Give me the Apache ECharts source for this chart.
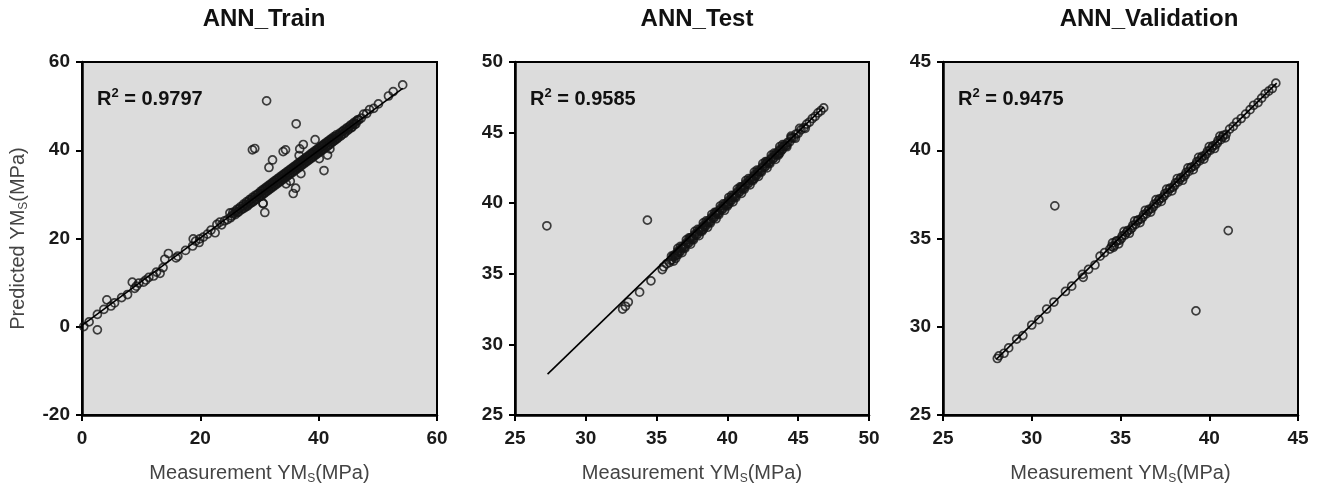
<!DOCTYPE html>
<html>
<head>
<meta charset="utf-8">
<script src="https://cdn.jsdelivr.net/npm/echarts@6/dist/echarts.min.js"></script>
<style>html,body{margin:0;padding:0;background:#fff}#c{width:1322px;height:490px}</style>
</head>
<body>
<div id="c"></div>
<script>
// ---------- data ----------
const panelTitles = ['ANN_Train', 'ANN_Test', 'ANN_Validation'];
const r2Values = ['0.9797', '0.9585', '0.9475'];

const trainXTicks = [0, 60, 20];      // min, max, interval
const trainYTicks = [-20, 60, 20];
const testTicks = [25, 50, 5];
const validTicks = [25, 45, 5];

// regression lines [x, y] end points
const trainFit = [[0, 0.3], [54.2, 54.0]];
const testFit = [[27.3, 27.9], [46.8, 46.8]];
const validFit = [[28.0, 28.15], [43.8, 43.8]];

// ANN_Train: [measured, predicted]
const trainPoints = [
  [0.3,0.05],[1.2,1.1],[2.6,-0.7],[2.6,2.8],[3.7,3.95],[4.2,6.1],[4.9,4.7],[5.5,5.4],[6.7,6.6],[7.7,7.3],
  [8.5,10.1],[8.9,8.7],[9.2,9.2],[9.6,9.9],[10.4,10.1],[10.8,10.6],[11.3,11.2],[12.1,11.5],[12.6,12.4],[13.2,12.1],
  [13.7,13.4],[14.0,15.3],[14.6,16.6],[15.9,15.6],[16.2,16.0],[17.5,17.3],[18.7,18.3],[18.8,19.9],[19.2,19.4],[19.8,19.1],
  [19.9,19.9],[20.5,20.3],[21.2,21.0],[21.8,21.9],[22.5,21.3],[22.8,23.2],[23.3,23.7],[23.6,23.1],[24.1,24.0],[24.6,24.3],
  [25.0,25.8],[25.3,25.1],[25.7,25.6],[26.0,26.2],[26.3,25.9],[26.6,26.8],[26.9,26.5],[27.2,27.4],[27.4,26.9],[27.7,27.8],
  [27.9,27.3],[28.2,28.4],[28.4,27.9],[28.7,28.9],[28.9,28.3],[29.2,29.4],[29.4,28.8],[29.6,29.9],[29.9,29.4],[30.1,30.3],
  [30.3,29.6],[30.5,30.8],[30.7,30.1],[30.9,31.2],[31.1,30.5],[31.3,31.6],[31.5,30.9],[31.7,32.0],[31.9,31.3],[32.1,32.4],
  [32.3,31.7],[32.5,32.8],[32.7,32.1],[32.9,33.2],[33.1,32.5],[33.3,33.6],[33.5,32.9],[33.7,34.0],[33.9,33.3],[34.1,34.4],
  [34.3,33.7],[34.5,34.8],[34.7,34.1],[34.9,35.2],[35.1,34.5],[35.3,35.6],[35.5,34.9],[35.7,36.0],[35.9,35.3],[36.1,36.4],
  [36.3,35.7],[36.5,36.8],[36.7,36.1],[36.9,37.2],[37.1,36.5],[37.3,37.6],[37.5,36.9],[37.7,38.0],[37.9,37.3],[38.1,38.4],
  [38.3,37.7],[38.5,38.8],[38.7,38.1],[38.9,39.2],[39.1,38.5],[39.3,39.6],[39.5,38.9],[39.7,40.0],[39.9,39.3],[40.1,40.4],
  [40.3,39.7],[40.5,40.8],[40.7,40.1],[40.9,41.2],[41.1,40.5],[41.3,41.6],[41.5,40.9],[41.7,42.0],[41.9,41.3],[42.1,42.4],
  [42.3,41.8],[42.5,42.7],[42.7,42.2],[42.9,43.1],[43.1,42.6],[43.4,43.5],[43.7,43.2],[44.0,44.2],[44.3,43.8],[44.6,44.8],
  [44.9,44.5],[45.2,45.4],[45.5,45.1],[45.8,46.0],[46.1,45.8],[46.4,46.6],[46.8,46.9],[47.2,47.3],[47.6,48.2],[48.1,48.3],
  [48.6,49.2],[49.3,49.5],[50.1,50.5],[51.8,52.3],[52.6,53.3],[54.2,54.8],
  [25.1,24.7],[25.5,25.9],[25.9,25.4],[26.2,26.6],[26.5,26.1],[26.8,27.2],[27.1,26.7],[27.3,27.8],[27.6,27.2],[27.8,28.3],
  [28.1,27.6],[28.3,28.8],[28.6,28.1],[28.8,29.3],[29.1,28.6],[29.3,29.8],[29.5,29.1],[29.8,30.2],[30.0,29.5],[30.2,30.7],
  [30.4,30.0],[30.6,31.1],[30.8,30.3],[31.0,31.5],[31.2,30.8],[31.4,31.9],[31.6,31.2],[31.8,32.3],[32.0,31.6],[32.2,32.7],
  [32.4,32.0],[32.6,33.1],[32.8,32.4],[33.0,33.5],[33.2,32.8],[33.4,33.9],[33.6,33.2],[33.8,34.3],[34.0,33.6],[34.2,34.7],
  [34.4,34.0],[34.6,35.1],[34.8,34.4],[35.0,35.5],[35.2,34.8],[35.4,35.9],[35.6,35.2],[35.8,36.3],[36.0,35.6],[36.2,36.7],
  [36.4,36.0],[36.6,37.1],[36.8,36.4],[37.0,37.5],[37.2,36.8],[37.4,37.9],[37.6,37.2],[37.8,38.3],[38.0,37.6],[38.2,38.7],
  [38.4,38.0],[38.6,39.1],[38.8,38.4],[39.0,39.5],[39.2,38.8],[39.4,39.9],[39.6,39.2],[39.8,40.3],[40.0,39.6],[40.2,40.7],
  [40.4,40.0],[40.6,41.1],[40.8,40.4],[41.0,41.5],[41.2,40.8],[41.4,41.9],[41.6,41.2],[41.8,42.3],[42.0,41.6],[42.2,42.7],
  [42.4,42.0],[42.6,43.1],[42.8,42.4],[43.0,43.5],[43.3,42.9],[43.6,43.9],[43.9,43.5],[44.2,44.5],[44.5,44.1],[44.8,45.1],
  [45.1,44.8],[45.4,45.7],[45.7,45.3],[46.0,46.3],[46.3,46.0],[46.6,46.9],
  // scattered points
  [31.2,51.2],[36.2,46.0],[28.8,40.1],[29.2,40.4],[34.0,39.7],[34.4,40.1],[32.2,37.8],[31.6,36.1],[36.8,40.3],[37.4,41.3],
  [39.4,42.4],[40.9,35.4],[40.1,38.1],[41.5,38.9],[41.9,40.3],[37.0,34.7],[34.5,32.4],[35.2,33.0],[36.1,31.4],[35.7,30.2],
  [30.9,25.9],[30.6,28.0],[36.7,38.8],[30.6,27.9]
];

// ANN_Test: [measured, predicted]
const testPoints = [
  [27.25,38.4],[34.35,38.8],
  [32.6,32.5],[32.8,32.7],[33.0,33.0],[33.8,33.7],[34.6,34.5],[35.4,35.3],[35.5,35.5],[35.7,35.7],[35.9,35.8],
  [36.0,35.95],[36.15,36.2],[36.3,36.25],[36.45,36.5],[36.6,36.55],[36.75,36.8],[36.9,36.85],[37.05,37.1],[37.2,37.15],[37.35,37.4],
  [37.5,37.45],[37.65,37.7],[37.8,37.75],[37.95,38.0],[38.1,38.05],[38.25,38.3],[38.4,38.35],[38.55,38.6],[38.7,38.65],[38.85,38.9],
  [39.0,38.95],[39.15,39.2],[39.3,39.25],[39.45,39.5],[39.6,39.55],[39.75,39.8],[39.9,39.85],[40.05,40.1],[40.2,40.15],[40.35,40.4],
  [40.5,40.45],[40.65,40.7],[40.8,40.75],[40.95,41.0],[41.1,41.05],[41.25,41.3],[41.4,41.35],[41.55,41.6],[41.7,41.65],[41.85,41.9],
  [42.0,41.95],[42.15,42.2],[42.3,42.25],[42.45,42.5],[42.6,42.55],[42.75,42.8],[42.9,42.85],[43.05,43.1],[43.2,43.15],[43.35,43.4],
  [43.5,43.45],[43.65,43.7],[43.8,43.75],[43.95,44.0],[44.1,44.05],[44.25,44.3],[44.4,44.35],[44.55,44.6],[44.7,44.65],[44.85,44.9],
  [45.0,44.95],[45.2,45.2],[45.4,45.35],[45.6,45.6],[45.8,45.75],[46.0,46.0],[46.2,46.15],[46.4,46.4],[46.6,46.55],[46.8,46.75],
  [36.5,36.35],[37.4,37.55],[38.3,38.15],[39.2,39.35],[40.1,39.95],[41.0,41.15],[41.9,41.75],[42.8,42.95],[43.7,43.55],[44.5,44.65],
  [36.05,36.25],[36.35,36.1],[36.7,36.95],[37.0,36.8],[37.3,37.55],[37.6,37.4],[37.9,38.15],[38.2,38.0],[38.5,38.75],[38.8,38.6],
  [39.1,39.35],[39.4,39.2],[39.7,39.95],[40.0,39.8],[40.3,40.55],[40.6,40.4],[40.9,41.15],[41.2,41.0],[41.5,41.75],[41.8,41.6],
  [42.1,42.35],[42.4,42.2],[42.7,42.95],[43.0,42.8],[43.3,43.55],[43.6,43.4],[43.9,44.15],[44.2,44.0],[44.5,44.75],[44.8,44.6],
  [45.1,45.3],[45.5,45.3],
  [36.08,36.0],[36.23,36.33],[36.38,36.3],[36.53,36.63],[36.68,36.6],[36.83,36.93],[36.98,36.9],[37.13,37.23],[37.28,37.2],[37.43,37.53],
  [37.58,37.5],[37.73,37.83],[37.88,37.8],[38.03,38.13],[38.18,38.1],[38.33,38.43],[38.48,38.4],[38.63,38.73],[38.78,38.7],[38.93,39.03],
  [39.08,39.0],[39.23,39.33],[39.38,39.3],[39.53,39.63],[39.68,39.6],[39.83,39.93],[39.98,39.9],[40.13,40.23],[40.28,40.2],[40.43,40.53],
  [40.58,40.5],[40.73,40.83],[40.88,40.8],[41.03,41.13],[41.18,41.1],[41.33,41.43],[41.48,41.4],[41.63,41.73],[41.78,41.7],[41.93,42.03],
  [42.08,42.0],[42.23,42.33],[42.38,42.3],[42.53,42.63],[42.68,42.6],[42.83,42.93],[42.98,42.9],[43.13,43.23],[43.28,43.2],[43.43,43.53],
  [43.58,43.5],[43.73,43.83],[43.88,43.8],[44.03,44.13],[44.18,44.1],
  [36.2,35.9],[36.5,36.8],[36.8,36.5],[37.1,37.4],[37.4,37.1],[37.7,38.0],[38.0,37.7],[38.3,38.6],[38.6,38.3],[38.9,39.2],
  [39.2,38.9],[39.5,39.8],[39.8,39.5],[40.1,40.4],[40.4,40.1],[40.7,41.0],[41.0,40.7],[41.3,41.6],[41.6,41.3],[41.9,42.2],
  [42.2,41.9],[42.5,42.8],[42.8,42.5],[43.1,43.4],[43.4,43.1],[43.7,44.0]
];

// ANN_Validation: [measured, predicted]
const validPoints = [
  [31.3,36.85],[41.07,35.45],[39.25,30.9],
  [28.06,28.2],[28.15,28.35],[28.44,28.5],[28.7,28.8],[29.15,29.3],[29.5,29.5],[30.0,30.1],[30.4,30.4],[30.84,31.0],[31.25,31.4],
  [31.9,32.0],[32.25,32.3],[32.85,32.97],[32.9,32.8],[33.2,33.25],[33.56,33.5],[33.85,34.0],[34.1,34.2],[34.4,34.4],
  [34.5,34.55],[34.65,34.6],[34.8,34.85],[34.95,34.9],[35.1,35.15],[35.25,35.2],[35.4,35.45],[35.55,35.5],[35.7,35.75],[35.85,35.8],
  [36.0,36.05],[36.15,36.1],[36.3,36.35],[36.45,36.4],[36.6,36.65],[36.75,36.7],[36.9,36.95],[37.05,37.0],[37.2,37.25],[37.35,37.3],
  [37.5,37.55],[37.65,37.6],[37.8,37.85],[37.95,37.9],[38.1,38.15],[38.25,38.2],[38.4,38.45],[38.55,38.5],[38.7,38.75],[38.85,38.8],
  [39.0,39.05],[39.15,39.1],[39.3,39.35],[39.45,39.4],[39.6,39.65],[39.75,39.7],[39.9,39.95],[40.05,40.0],[40.2,40.25],[40.35,40.3],
  [40.5,40.55],[40.65,40.6],[40.8,40.85],[40.95,40.9],[41.15,41.2],[41.35,41.35],[41.55,41.6],[41.8,41.8],[42.05,42.05],[42.3,42.3],
  [42.5,42.55],[42.75,42.7],[42.95,42.95],[43.15,43.2],[43.35,43.35],[43.55,43.5],[43.75,43.8],
  [34.55,34.75],[34.9,34.7],[35.2,35.4],[35.5,35.3],[35.8,36.0],[36.1,35.9],[36.4,36.6],[36.7,36.5],[37.0,37.2],[37.3,37.1],
  [37.6,37.8],[37.9,37.7],[38.2,38.4],[38.5,38.3],[38.8,39.0],[39.1,38.9],[39.4,39.6],[39.7,39.5],[40.0,40.2],[40.3,40.1],
  [40.6,40.8],[40.9,40.7],
  [34.6,34.5],[34.75,34.85],[35.05,35.0],[35.35,35.35],[35.65,35.6],[35.95,36.0],[36.25,36.2],[36.55,36.55],[36.85,36.8],[37.15,37.15],
  [37.45,37.4],[37.75,37.8],[38.05,38.0],[38.35,38.35],[38.65,38.6],[38.95,39.0],[39.25,39.2],[39.55,39.55],[39.85,39.8],[40.15,40.15],
  [40.45,40.4],[40.75,40.75]
];

// ---------- chart ----------
const FONT = '"Liberation Sans", Arial, Helvetica, sans-serif';
const grids = [
  {left: 82, top: 62, width: 355, height: 354},
  {left: 515, top: 62, width: 354, height: 354},
  {left: 943, top: 62, width: 355, height: 354}
];
const titleCenters = [259, 692, 1144];
const axisRanges = [
  [trainXTicks, trainYTicks],
  [testTicks, testTicks],
  [validTicks, validTicks]
];
const pointSets = [trainPoints, testPoints, validPoints];
const fits = [trainFit, testFit, validFit];
const subRich = {sub: {fontSize: 12, fontFamily: FONT, color: '#444', verticalAlign: 'bottom', lineHeight: 14}};

function axis(rng, gi, isX) {
  const a = {
    type: 'value', gridIndex: gi, min: rng[0], max: rng[1], interval: rng[2],
    splitLine: {show: false},
    axisLine: {show: true, onZero: false, lineStyle: {color: '#000', width: 2.5}},
    axisTick: {show: true, inside: false, length: 6, lineStyle: {color: '#000', width: 2}},
    axisLabel: {color: '#1a1a1a', fontSize: 19, fontWeight: 'bold', fontFamily: FONT, margin: isX ? 14 : 12}
  };
  if (isX) {
    a.name = 'Measurement YM{sub|S}(MPa)';
    a.nameLocation = 'middle';
    a.nameGap = 46;
    a.nameTextStyle = {fontSize: 20, color: '#444', fontFamily: FONT, lineHeight: 24, rich: subRich};
  } else if (gi === 0) {
    a.name = 'Predicted YM{sub|S}(MPa)';
    a.nameLocation = 'middle';
    a.nameGap = 52;
    a.nameTextStyle = {fontSize: 20, color: '#444', fontFamily: FONT, lineHeight: 24, rich: subRich};
  }
  return a;
}

const titles = [];
grids.forEach((g, i) => {
  titles.push({
    text: panelTitles[i], left: titleCenters[i], top: 2, textAlign: 'center',
    textStyle: {fontSize: 24, fontWeight: 'bold', color: '#111', fontFamily: FONT}
  });
  titles.push({
    text: '{b|R}{sup|2}{b| = ' + r2Values[i] + '}', left: g.left + 10, top: 82,
    textStyle: {
      rich: {
        b: {fontSize: 20, fontWeight: 'bold', color: '#111', fontFamily: FONT, lineHeight: 24},
        sup: {fontSize: 13, fontWeight: 'bold', color: '#111', fontFamily: FONT, verticalAlign: 'top', lineHeight: 14}
      }
    }
  });
});

const series = [];
grids.forEach((g, i) => {
  series.push({
    type: 'line', xAxisIndex: i, yAxisIndex: i, data: fits[i], symbol: 'none',
    lineStyle: {color: '#000', width: 1.6}, silent: true, z: 3
  });
  series.push({
    type: 'scatter', xAxisIndex: i, yAxisIndex: i, data: pointSets[i], symbol: 'circle', symbolSize: 8,
    itemStyle: {color: 'rgba(0,0,0,0)', borderColor: '#141414', borderWidth: 1.7}, z: 2
  });
});

const option = {
  animation: false,
  backgroundColor: '#fff',
  title: titles,
  grid: grids.map(g => Object.assign({show: true, backgroundColor: '#dcdcdc', borderColor: '#000', borderWidth: 2}, g)),
  xAxis: axisRanges.map((r, i) => axis(r[0], i, true)),
  yAxis: axisRanges.map((r, i) => axis(r[1], i, false)),
  series: series
};
const chart = echarts.init(document.getElementById('c'), null, {renderer: 'canvas'});
chart.setOption(option);
</script>
</body>
</html>
